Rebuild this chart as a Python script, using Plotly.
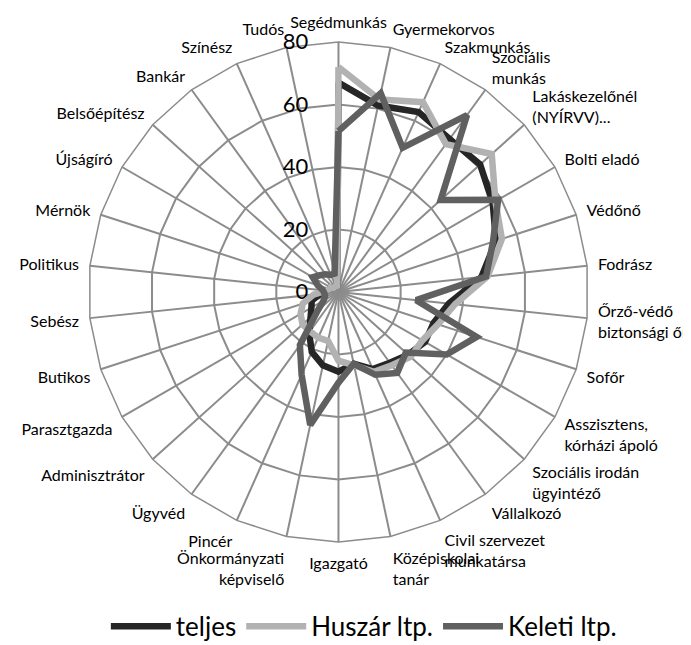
import plotly.graph_objects as go

categories = [
    "Segédmunkás", "Gyermekorvos", "Szakmunkás", "Szociális<br>munkás",
    "Lakáskezelőnél<br>(NYÍRVV)...", "Bolti eladó", "Védőnő", "Fodrász",
    "Őrző-védő<br>biztonsági őr", "Sofőr", "Asszisztens,<br>kórházi ápoló",
    "Szociális irodán<br>ügyintéző", "Vállalkozó", "Civil szervezet<br>munkatársa",
    "Középiskolai<br>tanár", "Igazgató", "Önkormányzati<br>képviselő", "Pincér",
    "Ügyvéd", "Adminisztrátor", "Parasztgazda", "Butikos", "Sebész", "Politikus",
    "Mérnök", "Újságíró", "Belsőépítész", "Bankár", "Színész", "Tudós",
]

teljes = [67, 61, 63, 60.5, 61, 57, 53, 46, 35.5, 32, 32, 30, 28, 27, 23.5,
          25.5, 24, 21, 16, 12, 10, 9, 6, 4, 3, 3, 2, 2, 2, 2]
huszar = [72, 63, 66.5, 58.5, 66, 58, 55, 48, 37.5, 33.5, 31, 31, 29, 28, 24,
          22, 16, 16, 15.5, 15.5, 14, 12, 8, 4, 3, 3, 2, 2, 2, 2]
keleti = [51.5, 65, 50.5, 70, 44, 59, 52, 47.5, 25, 46.5, 40, 29, 32, 29, 23.5,
          29, 43.5, 29, 21, 9, 5.5, 4.5, 4.5, 5, 7, 9.5, 8, 7, 6, 6]

series_names = ["teljes", "Huszár ltp.", "Keleti ltp."]
series_values = [teljes, huszar, keleti]
series_colors = ["#262626", "#B2B2B2", "#606060"]

radial_ticks = [0, 20, 40, 60, 80]

fig = go.Figure()
for name, vals, col in zip(series_names, series_values, series_colors):
    fig.add_trace(go.Scatterpolar(
        r=vals + vals[:1],
        theta=categories + categories[:1],
        mode="lines",
        name=name,
        line=dict(color=col, width=6.5),
    ))

fig.update_layout(
    width=691, height=645,
    paper_bgcolor="white",
    plot_bgcolor="white",
    margin=dict(l=0, r=0, t=0, b=0),
    font=dict(family="Lato, Open Sans, sans-serif", color="#000000"),
    polar=dict(
        domain=dict(x=[0.1165, 0.840], y=[0.1721, 0.9473]),
        bgcolor="white",
        gridshape="linear",
        radialaxis=dict(
            range=[0, 80],
            tickvals=radial_ticks,
            ticktext=[str(v) for v in radial_ticks],
            angle=90,
            tickangle=90,
            side="counterclockwise",
            showline=False,
            ticks="outside",
            ticklen=22,
            tickcolor="rgba(0,0,0,0)",
            gridcolor="#8C8C8C",
            gridwidth=1.5,
            tickfont=dict(size=22, family="Lato, sans-serif", color="#000000"),
            layer="below traces",
        ),
        angularaxis=dict(
            type="category",
            categoryarray=categories,
            rotation=90,
            direction="clockwise",
            showline=True,
            linecolor="#8C8C8C",
            linewidth=1.5,
            gridcolor="#8C8C8C",
            gridwidth=1.5,
            ticks="outside",
            ticklen=7,
            tickcolor="rgba(0,0,0,0)",
            tickfont=dict(size=16, family="Lato, sans-serif", color="#000000"),
            layer="below traces",
        ),
    ),
    legend=dict(
        orientation="h",
        x=0.515, xanchor="center",
        y=0.005, yanchor="bottom",
        font=dict(size=26, family="Lato, sans-serif", color="#000000"),
        itemwidth=60,
        traceorder="normal",
    ),
)

fig.write_html("out.html")
